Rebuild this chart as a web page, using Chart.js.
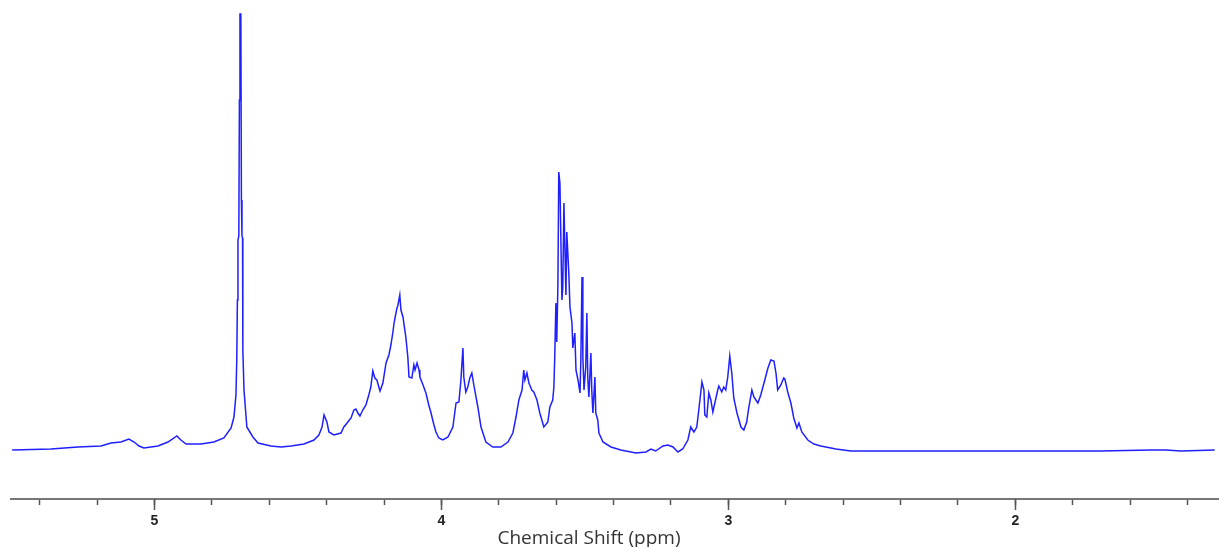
<!DOCTYPE html>
<html>
<head>
<meta charset="utf-8">
<title>Chemical Shift spectrum</title>
<script src="https://cdn.jsdelivr.net/npm/chart.js@4/dist/chart.umd.min.js"></script>
<style>
  body { margin: 0; background: #fff; }
  canvas { display: block; }
</style>
</head>
<body>
<canvas id="myChart" width="1219" height="547"></canvas>
<script>
// spectrum: chemical shift (ppm) and intensity (arbitrary units, baseline = 0)
const ppm = [
  5.496, 5.361, 5.267, 5.186, 5.152, 5.117, 5.089, 5.071, 5.054, 5.037,
  4.988, 4.953, 4.922, 4.908, 4.890, 4.838, 4.793, 4.758, 4.733, 4.723,
  4.716, 4.713, 4.711, 4.709, 4.706, 4.704, 4.702, 4.699, 4.697, 4.695,
  4.693, 4.692, 4.688, 4.678, 4.657, 4.639, 4.594, 4.559,
  4.524, 4.479, 4.444, 4.427, 4.416, 4.409, 4.399, 4.392, 4.375, 4.350,
  4.340, 4.326, 4.315, 4.305, 4.298, 4.291, 4.284, 4.274, 4.263, 4.253,
  4.246, 4.239, 4.232, 4.225, 4.214, 4.204, 4.193, 4.183, 4.176, 4.169,
  4.165, 4.155, 4.152, 4.145, 4.141, 4.134, 4.124, 4.117, 4.113, 4.103,
  4.096, 4.092, 4.085, 4.078, 4.075, 4.064, 4.054, 4.044, 4.037, 4.026,
  4.019, 4.009, 3.995, 3.977, 3.960, 3.949, 3.939, 3.932, 3.925, 3.922,
  3.915, 3.908, 3.901, 3.894, 3.887, 3.873, 3.862, 3.845, 3.821, 3.793,
  3.768, 3.751, 3.740, 3.730, 3.719, 3.713, 3.709, 3.702, 3.695, 3.685,
  3.678, 3.667, 3.657, 3.643, 3.629, 3.622, 3.612, 3.608, 3.605, 3.601,
  3.598, 3.594, 3.591, 3.587, 3.580, 3.577, 3.573, 3.566, 3.563, 3.556,
  3.552, 3.545, 3.542, 3.535, 3.531, 3.524, 3.517, 3.514, 3.510, 3.507,
  3.503, 3.497, 3.493, 3.490, 3.486, 3.479, 3.476, 3.472, 3.465, 3.462,
  3.455, 3.451, 3.437, 3.409, 3.375, 3.322, 3.287, 3.270, 3.253, 3.228,
  3.211, 3.193, 3.176, 3.159, 3.141, 3.131, 3.120, 3.110, 3.103, 3.092,
  3.085, 3.082, 3.075, 3.068, 3.061, 3.054, 3.047, 3.037, 3.033, 3.023,
  3.016, 3.009, 3.002, 2.995, 2.988, 2.981, 2.970, 2.956, 2.946, 2.936,
  2.929, 2.918, 2.911, 2.897, 2.887, 2.873, 2.862, 2.852, 2.841, 2.834,
  2.828, 2.817, 2.807, 2.803, 2.793, 2.782, 2.772, 2.761, 2.754, 2.744,
  2.723, 2.702, 2.678, 2.625, 2.573, 2.399, 2.050, 1.702, 1.528, 1.476,
  1.423, 1.305
];
const intensity = [
  0, 1, 3, 4, 7, 8, 11, 8, 4, 2,
  4, 8, 14, 10, 6, 6, 8, 12, 22, 33,
  55, 93, 150, 210, 214, 350, 436, 436, 250, 214,
  212, 100, 60, 23, 13, 7, 4, 3,
  4, 6, 10, 15, 23, 35, 28, 18, 15, 17,
  23, 28, 32, 40, 41, 37, 34, 40, 45, 55,
  63, 79, 72, 70, 59, 67, 87, 95, 105, 118,
  127, 142, 144, 155, 140, 133, 113, 93, 73, 72,
  85, 80, 87, 80, 73, 65, 57, 45, 38, 25,
  18, 12, 10, 13, 23, 47, 48, 70, 102, 73,
  58, 63, 72, 77, 65, 43, 23, 8, 3, 3,
  8, 17, 33, 50, 60, 80, 70, 77, 67, 60,
  58, 50, 37, 23, 28, 43, 50, 63, 93, 147,
  108, 165, 278, 267, 150, 163, 247, 155, 218, 177,
  143, 127, 102, 117, 80, 70, 57, 90, 173, 93,
  60, 83, 137, 73, 53, 97, 60, 37, 73, 37,
  30, 17, 8, 3, 0, -3, -2, 1, -1, 4,
  5, 3, -2, 1, 10, 23, 18, 23, 40, 68,
  60, 35, 33, 57, 50, 38, 47, 60, 64, 58,
  63, 60, 73, 94, 77, 52, 37, 23, 20, 28,
  42, 60, 53, 47, 55, 70, 82, 90, 89, 77,
  60, 65, 72, 71, 58, 47, 32, 22, 27, 18,
  10, 6, 4, 1, -1, -1, -1, -1, 0, 0,
  -1, 0
];
// axis ticks every 0.2 ppm, labels on the whole numbers
const tickValues = [5.4, 5.2, 5.0, 4.8, 4.6, 4.4, 4.2, 4.0, 3.8, 3.6, 3.4, 3.2, 3.0, 2.8, 2.6, 2.4, 2.2, 2.0, 1.8, 1.6, 1.4];
const majorTicks = [5, 4, 3, 2];
const axisTitle = "Chemical Shift (ppm)";

const points = ppm.map((v, i) => ({ x: v, y: intensity[i] }));

// longer ticks on whole numbers + the axis title
const axisExtras = {
  id: "axisExtras",
  afterDraw(chart) {
    const ctx = chart.ctx;
    const x = chart.scales.x;
    ctx.save();
    ctx.strokeStyle = "#555";
    ctx.lineWidth = 1.5;
    majorTicks.forEach((v) => {
      const px = Math.round(x.getPixelForValue(v)) + 0.5;
      ctx.beginPath();
      ctx.moveTo(px, x.top);
      ctx.lineTo(px, x.top + 11);
      ctx.stroke();
    });
    ctx.fillStyle = "#333";
    ctx.font = '19px "Open Sans"';
    ctx.textAlign = "center";
    ctx.textBaseline = "middle";
    ctx.fillText(axisTitle, 589, 539);
    ctx.restore();
  },
};

const myChartRef = document.getElementById("myChart").getContext("2d");
new Chart(myChartRef, {
  type: "line",
  data: {
    datasets: [
      {
        label: "Spectrum",
        data: points,
        borderColor: "#1f1fff",
        borderWidth: 1.5,
        pointRadius: 0,
        tension: 0,
        fill: false,
      },
    ],
  },
  options: {
    responsive: false,
    animation: false,
    layout: { padding: { left: 11, right: 0, top: 10, bottom: 0 } },
    plugins: { legend: { display: false }, tooltip: { enabled: false } },
    scales: {
      x: {
        type: "linear",
        reverse: true,
        min: 1.29,
        max: 5.5,
        afterBuildTicks: (scale) => {
          scale.ticks = tickValues.map((v) => ({ value: v }));
        },
        afterFit: (scale) => {
          scale.height = 48;
        },
        border: { display: true, color: "#777", width: 2 },
        grid: {
          display: true,
          drawOnChartArea: false,
          drawTicks: true,
          tickLength: 6,
          tickColor: "#555",
          tickWidth: 1.5,
        },
        ticks: {
          autoSkip: false,
          maxRotation: 0,
          padding: 8,
          color: "#222",
          font: { family: "Liberation Sans", size: 14, weight: "bold" },
          callback: (v) => (Math.abs(v - Math.round(v)) < 1e-6 ? String(Math.round(v)) : ""),
        },
      },
      y: {
        display: false,
        min: -49,
        max: 440,
      },
    },
  },
  plugins: [axisExtras],
});
</script>
</body>
</html>
